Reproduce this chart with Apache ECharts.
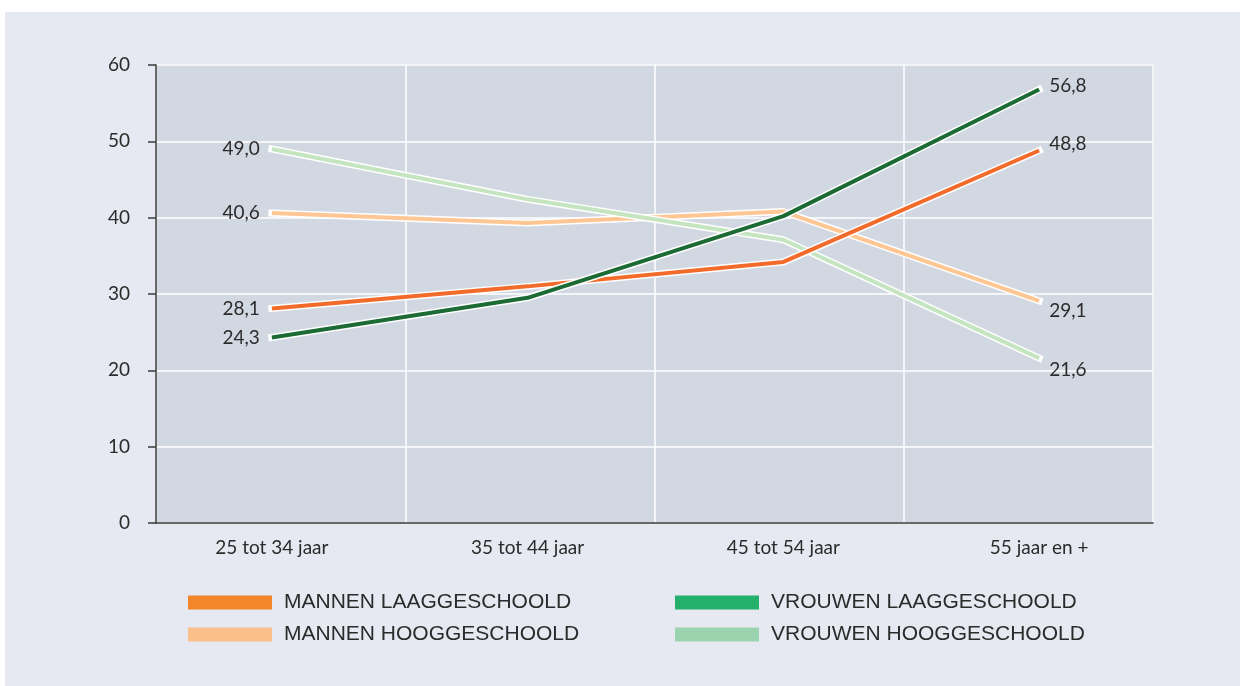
<!DOCTYPE html>
<html>
<head>
<meta charset="utf-8">
<script src="https://cdn.jsdelivr.net/npm/echarts@6/dist/echarts.min.js"></script>
<style>
  html, body { margin: 0; padding: 0; background: #ffffff; }
  #chart { position: absolute; left: 5px; top: 12px; width: 1235px; height: 674px; background: #e6e9f1; }
</style>
</head>
<body>
<div id="chart"></div>
<script>
  // categorieën en waarden
  var categories = ['25 tot 34 jaar', '35 tot 44 jaar', '45 tot 54 jaar', '55 jaar en +'];
  var mannenLaag = [28.1, 31.0, 34.2, 48.8];
  var mannenHoog = [40.6, 39.3, 40.8, 29.1];
  var vrouwenLaag = [24.3, 29.5, 40.2, 56.8];
  var vrouwenHoog = [49.0, 42.4, 37.1, 21.6];
  var yTicks = [0, 10, 20, 30, 40, 50, 60];

  var font = 'Lato, "Open Sans", sans-serif';
  var legendFont = '"Liberation Sans", sans-serif';

  var chartDom = document.getElementById('chart');
  var myChart = echarts.init(chartDom);

  function fmt(v) {
    return v.toFixed(1).replace('.', ',');
  }

  // eerste en laatste punt krijgen een label
  function withLabels(values, endOffset) {
    return values.map(function (v, i) {
      if (i == 0) {
        return { value: v, label: { show: true, position: 'left', distance: 12 } };
      }
      if (i == values.length - 1) {
        return { value: v, label: { show: true, position: 'right', distance: 10, offset: [0, endOffset] } };
      }
      return v;
    });
  }

  function underlay(values) {
    return {
      type: 'line',
      xAxisIndex: 1,
      yAxisIndex: 1,
      data: values,
      symbol: 'none',
      silent: true,
      animation: false,
      lineStyle: { color: '#ffffff', width: 7, cap: 'square' }
    };
  }

  function colored(name, values, color, endOffset) {
    return {
      name: name,
      type: 'line',
      xAxisIndex: 1,
      yAxisIndex: 1,
      data: withLabels(values, endOffset),
      symbol: 'circle',
      symbolSize: 0,
      showSymbol: true,
      animation: false,
      itemStyle: { color: color },
      lineStyle: { color: color, width: 4 },
      label: {
        show: false,
        color: '#2b2b2b',
        fontFamily: font,
        fontSize: 19,
        formatter: function (p) { return fmt(p.value); }
      }
    };
  }

  var option = {
    textStyle: { fontFamily: font },
    grid: [
      {
        left: 151, right: 87, top: 53, bottom: 163,
        show: true, backgroundColor: '#d2d8e2', borderColor: '#b3b7bf', borderWidth: 1
      },
      { left: 139, right: 73, top: 53, bottom: 163 }
    ],
    xAxis: [
      {
        type: 'category', gridIndex: 0, data: categories, boundaryGap: true,
        axisLine: { lineStyle: { color: '#3a3a3a', width: 1.5 } },
        axisTick: { show: false },
        axisLabel: { show: false },
        splitLine: { show: true, lineStyle: { color: '#ffffff', width: 1.5 } }
      },
      {
        type: 'category', gridIndex: 1, data: categories, boundaryGap: true,
        axisLine: { show: false },
        axisTick: { show: false },
        axisLabel: { color: '#2b2b2b', fontFamily: font, fontSize: 19, margin: 15 },
        splitLine: { show: false }
      }
    ],
    yAxis: [
      {
        type: 'value', gridIndex: 0, min: 0, max: 60, interval: 10,
        axisLine: { show: true, lineStyle: { color: '#3a3a3a', width: 1.5 } },
        axisTick: { show: true, length: 8, lineStyle: { color: '#3a3a3a', width: 1.5 } },
        axisLabel: {
          color: '#2b2b2b', fontFamily: font, fontSize: 19, margin: 26,
          formatter: function (v) { return yTicks.indexOf(v) > -1 ? String(v) : ''; }
        },
        splitLine: { show: true, lineStyle: { color: '#ffffff', width: 1.5 } }
      },
      {
        type: 'value', gridIndex: 1, min: 0, max: 60, interval: 10, show: false
      }
    ],
    legend: [
      {
        orient: 'vertical', left: 178, top: 575,
        itemWidth: 84, itemHeight: 14, itemGap: 11, icon: 'rect',
        textStyle: { color: '#2b2b2b', fontFamily: legendFont, fontSize: 21, padding: [0, 0, 0, 7] },
        data: [
          { name: 'MANNEN LAAGGESCHOOLD', itemStyle: { color: '#f4862a' } },
          { name: 'MANNEN HOOGGESCHOOLD', itemStyle: { color: '#fbbf8a' } }
        ]
      },
      {
        orient: 'vertical', left: 665, top: 575,
        itemWidth: 84, itemHeight: 14, itemGap: 11, icon: 'rect',
        textStyle: { color: '#2b2b2b', fontFamily: legendFont, fontSize: 21, padding: [0, 0, 0, 7] },
        data: [
          { name: 'VROUWEN LAAGGESCHOOLD', itemStyle: { color: '#22b06b' } },
          { name: 'VROUWEN HOOGGESCHOOLD', itemStyle: { color: '#9bd3ae' } }
        ]
      }
    ],
    series: [
      underlay(mannenHoog),
      colored('MANNEN HOOGGESCHOOLD', mannenHoog, '#fdc692', 10),
      underlay(vrouwenHoog),
      colored('VROUWEN HOOGGESCHOOLD', vrouwenHoog, '#c5e5c0', 12),
      underlay(mannenLaag),
      colored('MANNEN LAAGGESCHOOLD', mannenLaag, '#f26b2b', -7),
      underlay(vrouwenLaag),
      colored('VROUWEN LAAGGESCHOOLD', vrouwenLaag, '#1c6b35', -4)
    ]
  };

  option && myChart.setOption(option);
</script>
</body>
</html>
